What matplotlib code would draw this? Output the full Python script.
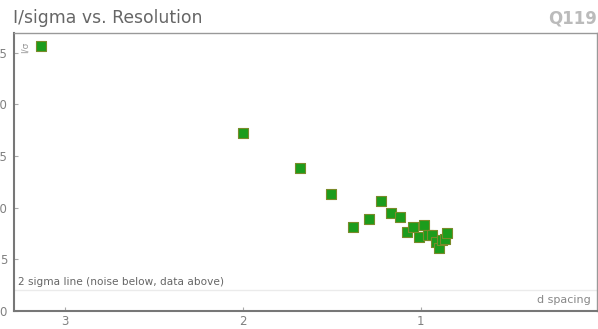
import numpy as np
import matplotlib
matplotlib.use("Agg")
import matplotlib.pyplot as plt

# d spacing (Angstrom) and I/sigma values
d_spacing = [3.135, 2.00, 1.680, 1.506, 1.381, 1.292, 1.224, 1.166, 1.118,
             1.079, 1.043, 0.983, 1.013, 0.959, 0.937, 0.917, 0.900,
             0.883, 0.866, 0.852]
i_sigma = [25.6, 17.2, 13.8, 11.3, 8.1, 8.9, 10.6, 9.5, 9.1,
           7.6, 8.1, 8.3, 7.2, 7.4, 7.4, 6.7, 6.1,
           6.9, 7.0, 7.5]
x_ticks = [3, 2, 1]
y_ticks = [0, 5, 10, 15, 20, 25]
sigma_level = 2.0

fig = plt.figure(figsize=(5.98, 3.29), dpi=100)
ax = fig.add_axes([14 / 598, 1 - 311 / 329, 583 / 598, 278 / 329])

ax.axhline(sigma_level, color="#ebebeb", lw=1, zorder=1)
ax.scatter(d_spacing, i_sigma, marker="s", s=58, color="#1c9c1c",
           edgecolors="#7a8a2a", linewidths=0.8, zorder=3)

ax.set_xlim(3.287, 0.01)
ax.set_ylim(0, 26.9)
ax.set_xticks(x_ticks)
ax.set_yticks(y_ticks)
ax.tick_params(direction="in", length=3, color="#aaaaaa", labelcolor="#808080",
               labelsize=8.5)
ax.tick_params(axis="x", pad=3)
ax.tick_params(axis="y", pad=5)

for side in ["left", "bottom"]:
    ax.spines[side].set_color("#777777")
    ax.spines[side].set_linewidth(1.5)
for side in ["top", "right"]:
    ax.spines[side].set_color("#999999")
    ax.spines[side].set_linewidth(1.0)

ax.text(0.007, sigma_level + 0.35, "2 sigma line (noise below, data above)",
        transform=ax.get_yaxis_transform(), fontsize=7.6, color="#666666",
        ha="left", va="bottom")
ax.text(0.99, 0.02, "d spacing", transform=ax.transAxes, fontsize=8,
        color="#888888", ha="right", va="bottom")
ax.text(0.012, 0.97, "I/σ", transform=ax.transAxes, fontsize=6.5,
        color="#999999", rotation=90, ha="left", va="top")

fig.text(13 / 598, 1 - 18 / 329, "I/sigma vs. Resolution", fontsize=12.4,
         color="#666666", ha="left", va="center")
fig.text(597 / 598, 1 - 18 / 329, "Q119", fontsize=12, fontweight="bold",
         color="#bbbbbb", ha="right", va="center")

fig.savefig("out.png", dpi=100)
